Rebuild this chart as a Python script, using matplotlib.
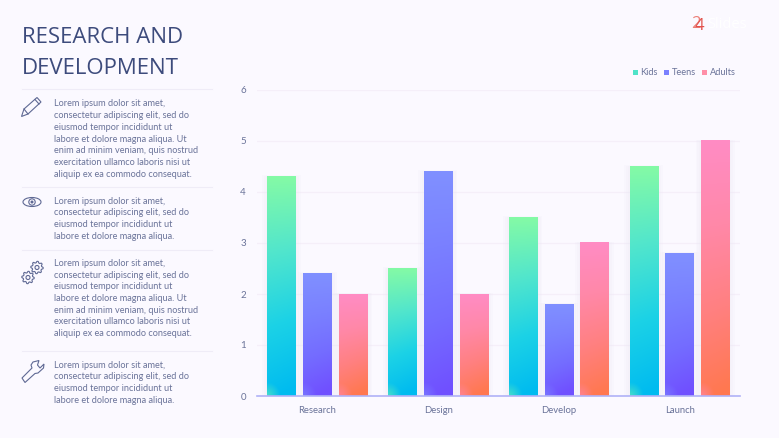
import numpy as np
import matplotlib.pyplot as plt
from matplotlib.colors import LinearSegmentedColormap
from matplotlib.patches import Circle, Ellipse, Polygon, Rectangle

plt.rcParams["font.family"] = ["Open Sans", "DejaVu Sans"]

categories = ["Research", "Design", "Develop", "Launch"]
kids = [4.3, 2.5, 3.5, 4.5]
teens = [2.4, 4.4, 1.8, 2.8]
adults = [2.0, 2.0, 3.0, 5.0]
y_ticks = [0, 1, 2, 3, 4, 5, 6]

series_names = ["Kids", "Teens", "Adults"]
series_values = [kids, teens, adults]
series_colors = [
    ["#00bbf0", "#1cd2e6", "#52e6cc", "#84faa6"],
    ["#7050ff", "#746cff", "#7a80ff", "#8090ff"],
    ["#ff7850", "#ff8080", "#ff88a8", "#ff8cc4"],
]
legend_colors = ["#4fe3c8", "#7a80ff", "#ff8fa8"]

lorem_long = [
    "Lorem ipsum dolor sit amet,",
    "consectetur adipiscing elit, sed do",
    "eiusmod tempor incididunt ut",
    "labore et dolore magna aliqua. Ut",
    "enim ad minim veniam, quis nostrud",
    "exercitation ullamco laboris nisi ut",
    "aliquip ex ea commodo consequat.",
]
lorem_short = lorem_long[:3] + ["labore et dolore magna aliqua."]

BG = "#fbf9ff"
NAVY = "#3d4b7c"
TEXT = "#6a7399"
ICON_COL = "#5f6994"
W, H = 779, 438

fig = plt.figure(figsize=(W / 100, H / 100), dpi=100, facecolor=BG)

# page overlay in pixel coordinates, y down
page = fig.add_axes([0, 0, 1, 1])
page.set_xlim(0, W)
page.set_ylim(H, 0)
page.axis("off")

page.text(22, 43.2, "RESEARCH AND", fontsize=16, color=NAVY, va="baseline")
page.text(22, 74.2, "DEVELOPMENT", fontsize=16, color=NAVY, va="baseline")

for y in [89, 187, 250, 351]:
    page.plot([22, 212], [y, y], color="#efecf7", lw=0.8)

blocks = [(104, lorem_long), (201, lorem_short), (263.5, lorem_long), (365, lorem_short)]
for y0, lines in blocks:
    for i, line in enumerate(lines):
        page.text(54.5, y0 + i * 11.7, line, fontsize=6.55, color=TEXT, va="center", family="Lato")

ICON = dict(edgecolor=ICON_COL, lw=0.8, fill=False)
# pencil
page.add_patch(Polygon([(21.5, 116.5), (24, 109), (37, 97.5), (41, 102), (28, 114)], **ICON))
page.plot([24, 28], [109, 114], color=ICON_COL, lw=0.8)
page.plot([35, 39], [99.5, 104], color=ICON_COL, lw=0.8)
# eye
page.add_patch(Ellipse((32, 202), 18, 9, **ICON))
page.add_patch(Circle((32, 202), 3.2, **ICON))
page.add_patch(Circle((32, 202), 1.5, color=ICON_COL, lw=0))
# gears
for cx, cy in [(37, 267.5), (28, 277.5)]:
    ang = np.arange(32) * 2 * np.pi / 32
    rad = np.array([6.2, 6.2, 4.8, 4.8] * 8)
    page.add_patch(Polygon(np.c_[cx + rad * np.cos(ang), cy + rad * np.sin(ang)], **ICON))
    page.add_patch(Circle((cx, cy), 2, **ICON))
# wrench
page.add_patch(Polygon([(22, 378), (32, 368), (31, 365), (33, 362), (39, 360.5), (37.5, 365),
                        (40, 368), (44, 364), (43.5, 368), (38, 373), (35, 373.5), (25, 382.5)],
                       **ICON))

# logo, the two digits overlap in the original too
page.text(691, 24.5, "2", fontsize=12, color="#ec7f78", va="center")
page.text(695, 26.5, "4", fontsize=12, color="#e2524c", va="center")
page.text(707, 25, "Slides", fontsize=10.5, color="#ffffff", va="center")

# legend
for x, name, c, tx in zip([633, 664, 702], series_names, legend_colors, [640, 672, 710]):
    page.add_patch(Rectangle((x, 69.5), 5, 5, color=c, lw=0))
    page.text(tx, 72.5, name, fontsize=6.7, color=TEXT, va="center", family="Lato")

# chart
ax = fig.add_axes([257 / W, 1 - 396 / H, (740 - 257) / W, (396 - 90) / H], facecolor="none")
x = np.arange(len(categories))
width = 0.232
offsets = [-0.298, -0.002, 0.294]

for vals, off, stops in zip(series_values, offsets, series_colors):
    cmap = LinearSegmentedColormap.from_list("g", stops)
    # soft shadow behind the bar, a few faint layers
    for grow in [0.09, 0.06, 0.03]:
        ax.bar(x + off, np.array(vals) + grow * 0.3, width + grow, color="#e9e6f2", alpha=0.13,
               lw=0, zorder=2)
    bars = ax.bar(x + off, vals, width, color="none", lw=0, zorder=4)
    for bar in bars:
        bx, bw, bh = bar.get_x(), bar.get_width(), bar.get_height()
        # gradient runs the height of each bar, tilted near the foot
        u, v = np.meshgrid(np.linspace(0, 1, 40), np.linspace(0, 1, 160))
        px_h = bh * 51
        t = np.clip(v + (0.5 - u) * 16 / px_h * (1 - v), 0, 1)
        rgb = cmap(t)[:, :, :3]
        # lighter glow in the bottom left corner
        d = np.hypot(u * 28, v * px_h)
        glow = np.clip(1 - d / 13, 0, 1)[:, :, None] * 0.55
        rgb = rgb * (1 - glow) + np.array(cmap(0.95)[:3]) * glow
        ax.imshow(rgb, extent=(bx, bx + bw, 0, bh), origin="lower",
                  aspect="auto", zorder=3, interpolation="bilinear")

ax.set_xlim(-0.5, 3.5)
ax.set_ylim(0, 6)
ax.set_xticks(x, categories, family="Lato")
ax.set_yticks(y_ticks, y_ticks, family="Lato")
ax.tick_params(length=0, labelcolor=TEXT)
ax.tick_params(axis="x", pad=7, labelsize=6.8)
ax.tick_params(axis="y", pad=8, labelsize=7)
ax.grid(axis="y", color="#f5eff9", lw=0.9, zorder=0)
ax.set_axisbelow(True)
for s in ["top", "right", "left"]:
    ax.spines[s].set_visible(False)
ax.spines["bottom"].set_color("#b0b2f7")
ax.spines["bottom"].set_linewidth(1.2)
ax.spines["bottom"].set_zorder(5)

fig.savefig("out.png", dpi=100, facecolor=BG)
